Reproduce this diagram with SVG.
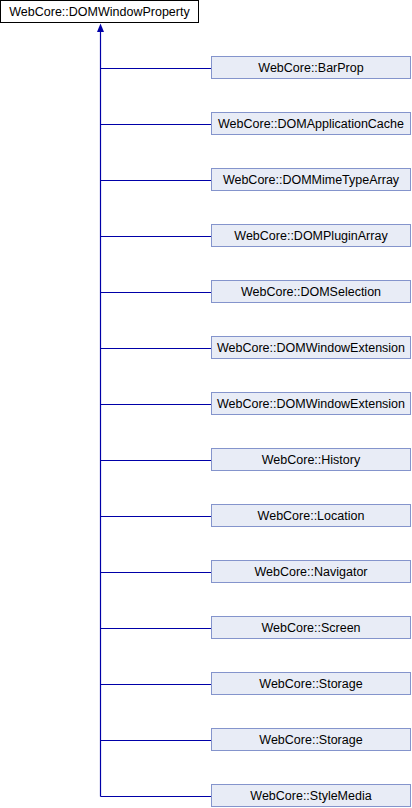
<svg xmlns="http://www.w3.org/2000/svg" width="412" height="808" viewBox="0 0 412 808">
<style>
.base rect{fill:#ffffff;stroke:#000000;stroke-width:1}
.child rect{fill:#e8ecf6;stroke:#8494cc;stroke-width:1}
text{font-family:"Liberation Sans",Arial,sans-serif;font-size:12.5px;fill:#000000;text-anchor:middle}
.edge{stroke:#0000a8;stroke-width:1.2;fill:none}
</style>
<rect width="412" height="808" fill="#ffffff"/>
<g id="connectors">
<path class="edge" d="M100.5 30 V796.5"/>
<path class="edge" d="M100.5 68.5 H211 M100.5 124.5 H211 M100.5 180.5 H211 M100.5 236.5 H211 M100.5 292.5 H211 M100.5 348.5 H211 M100.5 404.5 H211 M100.5 460.5 H211 M100.5 516.5 H211 M100.5 572.5 H211 M100.5 628.5 H211 M100.5 684.5 H211 M100.5 740.5 H211 M100.5 796.5 H211"/>
<polygon points="100.5,23.5 97,32 104,32" fill="#0000a8"/>
</g>
<g id="base" class="base"><rect x="0.5" y="0.5" width="198" height="22"/><text x="99.5" y="16">WebCore::DOMWindowProperty</text></g>
<g id="n1" class="child"><rect x="211.5" y="56.5" width="199" height="22"/><text x="311" y="72">WebCore::BarProp</text></g>
<g id="n2" class="child"><rect x="211.5" y="112.5" width="199" height="22"/><text x="311" y="128">WebCore::DOMApplicationCache</text></g>
<g id="n3" class="child"><rect x="211.5" y="168.5" width="199" height="22"/><text x="311" y="184">WebCore::DOMMimeTypeArray</text></g>
<g id="n4" class="child"><rect x="211.5" y="224.5" width="199" height="22"/><text x="311" y="240">WebCore::DOMPluginArray</text></g>
<g id="n5" class="child"><rect x="211.5" y="280.5" width="199" height="22"/><text x="311" y="296">WebCore::DOMSelection</text></g>
<g id="n6" class="child"><rect x="211.5" y="336.5" width="199" height="22"/><text x="311" y="352">WebCore::DOMWindowExtension</text></g>
<g id="n7" class="child"><rect x="211.5" y="392.5" width="199" height="22"/><text x="311" y="408">WebCore::DOMWindowExtension</text></g>
<g id="n8" class="child"><rect x="211.5" y="448.5" width="199" height="22"/><text x="311" y="464">WebCore::History</text></g>
<g id="n9" class="child"><rect x="211.5" y="504.5" width="199" height="22"/><text x="311" y="520">WebCore::Location</text></g>
<g id="n10" class="child"><rect x="211.5" y="560.5" width="199" height="22"/><text x="311" y="576">WebCore::Navigator</text></g>
<g id="n11" class="child"><rect x="211.5" y="616.5" width="199" height="22"/><text x="311" y="632">WebCore::Screen</text></g>
<g id="n12" class="child"><rect x="211.5" y="672.5" width="199" height="22"/><text x="311" y="688">WebCore::Storage</text></g>
<g id="n13" class="child"><rect x="211.5" y="728.5" width="199" height="22"/><text x="311" y="744">WebCore::Storage</text></g>
<g id="n14" class="child"><rect x="211.5" y="784.5" width="199" height="22"/><text x="311" y="800">WebCore::StyleMedia</text></g>
</svg>
